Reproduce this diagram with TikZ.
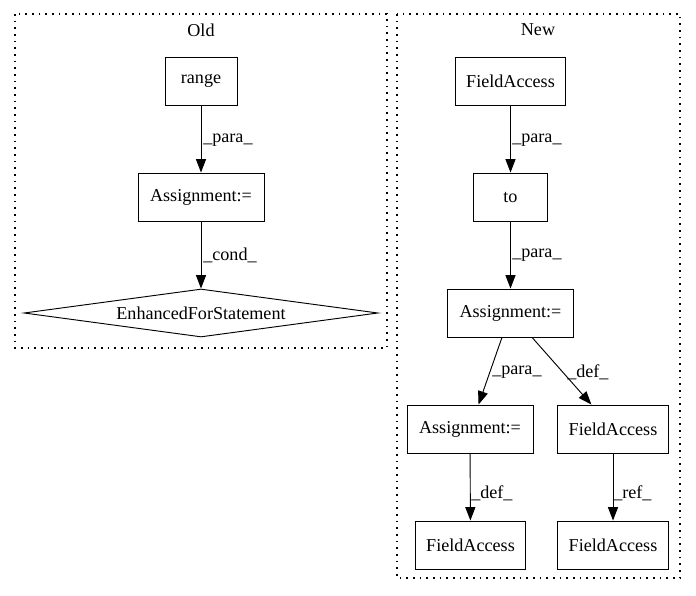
\documentclass[tikz,border=0pt]{standalone}
\usepackage{fontspec}
\setmainfont{Liberation Serif}
\usetikzlibrary{shapes.geometric,arrows.meta}

\begin{document}
\begin{tikzpicture}[x=0.75pt,y=-0.75pt,
  font=\fontsize{13.6}{16}\selectfont,
  box/.style={draw,line width=0.7pt,minimum height=36pt,inner sep=2pt},
  cluster/.style={line width=0.8pt,dash pattern=on 1.2pt off 3.8pt},
  edge/.style={line width=0.7pt,-{Triangle[length=10pt,width=7.5pt]}},
  elabel/.style={anchor=west,inner sep=0pt}]
\useasboundingbox (0,0) rectangle (696,596);
%\draw[step=50,gray,very thin] (0,0) grid (696,596);

% clusters
\draw[cluster] (15,14) rectangle (387,348);
\draw[cluster] (397,14) rectangle (680,578);
\node (oldtitle) at (201,30) {Old};
\node (newtitle) at (538,30) {New};

% Old
\node[box,minimum width=54pt] (range) at (201,81) {range};
\node[box,minimum width=94.5pt] (assignold) at (201,197) {Assignment:=};
\node[draw,line width=0.7pt,diamond,aspect=7.4,inner sep=0pt,
      minimum width=265.5pt,minimum height=36pt] (efs) at (201,313) {EnhancedForStatement};
\draw[edge] (range) -- (assignold);
\node[elabel] (l1) at (203,140) {\_para\_};
\draw[edge] (assignold) -- (efs);
\node[elabel] (l2) at (203,255) {\_cond\_};

% New
\node[box,minimum width=83pt] (fieldtop) at (510.5,81) {FieldAccess};
\node[box,minimum width=55pt] (tocall) at (510.5,197) {to};
\node[box,minimum width=94pt] (assignnew) at (510.5,313) {Assignment:=};
\node[box,minimum width=94.5pt] (assignleft) at (470,429) {Assignment:=};
\node[box,minimum width=83pt] (fieldright) at (613,429) {FieldAccess};
\node[box,minimum width=83pt] (fieldbl) at (470.5,545) {FieldAccess};
\node[box,minimum width=83pt] (fieldbr) at (613,545) {FieldAccess};

\draw[edge] (fieldtop) -- (tocall);
\node[elabel] (l3) at (512,140) {\_para\_};
\draw[edge] (tocall) -- (assignnew);
\node[elabel] (l4) at (512,255) {\_para\_};
\draw[edge] (assignnew) -- (assignleft);
\node[elabel] (l5) at (492,372) {\_para\_};
\draw[edge] (assignnew) -- (fieldright);
\node[elabel] (l6) at (567,372) {\_def\_};
\draw[edge] (assignleft) -- (fieldbl);
\node[elabel] (l7) at (471,493) {\_def\_};
\draw[edge] (fieldright) -- (fieldbr);
\node[elabel] (l8) at (613,493) {\_ref\_};
\end{tikzpicture}
\end{document}
